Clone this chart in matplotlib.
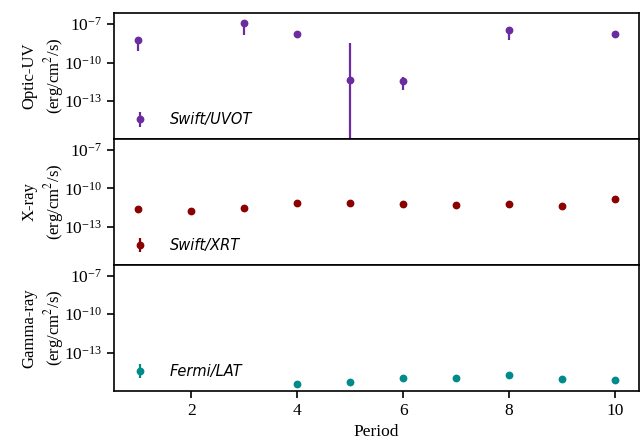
import numpy as np
import matplotlib
matplotlib.use("Agg")
import matplotlib.pyplot as plt
from matplotlib.ticker import FixedLocator, NullLocator

# ---- data ----
uvot_period = [1, 3, 4, 5, 6, 8, 10]
uvot_flux = [5.5e-9, 1.2e-7, 1.86e-8, 4.47e-12, 3.98e-12, 3.55e-8, 1.86e-8]
uvot_err = [4.7e-9, 1.05e-7, 1.0e-9, 3.6e-9, 3.3e-12, 3.0e-8, 1.0e-9]

xrt_period = [1, 2, 3, 4, 5, 6, 7, 8, 9, 10]
xrt_flux = [2.4e-12, 1.6e-12, 3.2e-12, 6.9e-12, 7.4e-12, 6.6e-12, 5.2e-12, 6.6e-12, 3.9e-12, 1.55e-11]
xrt_err = [2e-13, 1.5e-13, 3e-13, 5e-13, 5e-13, 5e-13, 4e-13, 5e-13, 3e-13, 1e-12]

lat_period = [4, 5, 6, 7, 8, 9, 10]
lat_flux = [3.8e-16, 4.9e-16, 1.12e-15, 1.0e-15, 1.9e-15, 8.9e-16, 7.8e-16]
lat_err = [3e-17, 4e-17, 9e-17, 8e-17, 1.5e-16, 7e-17, 6e-17]

ylabels = ["Optic-UV\n(erg/cm$^2$/s)", "X-ray\n(erg/cm$^2$/s)", "Gamma-ray\n(erg/cm$^2$/s)"]
legend_labels = ["Swift/UVOT", "Swift/XRT", "Fermi/LAT"]
colors = ["#6a2ca0", "#8b0000", "#008b8b"]
yticks = [1e-13, 1e-10, 1e-7]
xticks = [2, 4, 6, 8, 10]

plt.rcParams["font.family"] = "Liberation Serif"
plt.rcParams["mathtext.fontset"] = "stix"

fig, axes = plt.subplots(3, 1, figsize=(6.42, 4.48), dpi=100, sharex=True)
fig.subplots_adjust(left=0.1776, right=0.9958, top=0.9703, bottom=0.1279, hspace=0)

series = [(uvot_period, uvot_flux, uvot_err),
          (xrt_period, xrt_flux, xrt_err),
          (lat_period, lat_flux, lat_err)]

for ax, (p, f, e), lab, leg, c in zip(axes, series, ylabels, legend_labels, colors):
    ax.errorbar(p, f, yerr=e, fmt="o", color=c, ms=4.6, elinewidth=1.6, capsize=0, label=leg)
    ax.set_yscale("log")
    ax.set_ylim(10**-15.97, 10**-6.15)
    ax.yaxis.set_major_locator(FixedLocator(yticks))
    ax.yaxis.set_minor_locator(NullLocator())
    ax.set_ylabel(lab, fontsize=12, linespacing=1.25, labelpad=-1)
    ax.tick_params(axis="y", labelsize=12.5, direction="out", length=5, width=1.2)
    for s in ax.spines.values():
        s.set_linewidth(1.2)
    ax.legend(loc="lower left", frameon=False,
              prop={"family": "DejaVu Sans", "style": "italic", "size": 10.5},
              handletextpad=1.0, borderaxespad=0.3, borderpad=0.5)

axes[-1].set_xlim(0.54, 10.46)
axes[-1].xaxis.set_major_locator(FixedLocator(xticks))
axes[-1].xaxis.set_minor_locator(NullLocator())
axes[-1].tick_params(axis="x", labelsize=12.5, direction="out", length=5, width=1.2)
for ax in axes[:-1]:
    ax.tick_params(axis="x", bottom=False, labelbottom=False)
axes[-1].set_xlabel("Period", fontsize=12.5)

fig.savefig("out.png", dpi=100)
